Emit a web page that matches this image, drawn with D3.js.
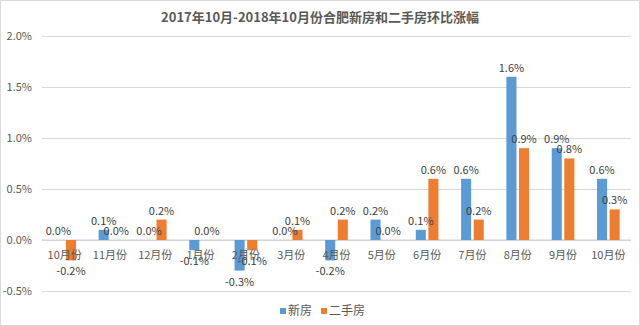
<!DOCTYPE html>
<html>
<head>
<meta charset="utf-8">
<script src="https://cdn.jsdelivr.net/npm/d3@7"></script>
<style>
  body { margin: 0; background: #fff; }
  svg text { font-family: "Noto Sans CJK SC", "Noto Sans", sans-serif; }
</style>
</head>
<body>
<svg id="chart" width="640" height="326"></svg>
<script>
// data (percent)
let months = ["10月份","11月份","12月份","1月份","2月份","3月份","4月份","5月份","6月份","7月份","8月份","9月份","10月份"]
let xinfang = [0.0, 0.1, 0.0, -0.1, -0.3, 0.0, -0.2, 0.2, 0.1, 0.6, 1.6, 0.9, 0.6]
let ershou  = [-0.2, 0.0, 0.2, 0.0, -0.1, 0.1, 0.2, 0.0, 0.6, 0.2, 0.9, 0.8, 0.3]
let seriesNames = ["新房", "二手房"]
let colors = ["#5B9BD5", "#ED7D31"]
let yTicks = [-0.5, 0, 0.5, 1.0, 1.5, 2.0]

let svg = d3.select("#chart")

// light frame around the chart
svg.append("rect")
  .attr("x", 0.5).attr("y", 0.5)
  .attr("width", 639).attr("height", 325)
  .attr("fill", "none")
  .attr("stroke", "#d9d9d9")

// scales
let x0 = d3.scaleBand()
  .domain(months.map((m, i) => i))
  .range([42, 631])

let x1 = d3.scaleBand()
  .domain(seriesNames)
  .range([x0.bandwidth() * 0.25, x0.bandwidth() * 0.75])
  .paddingInner(0.2)

let y = d3.scaleLinear()
  .domain([-0.5, 2.0])
  .range([291, 36])

// title
svg.append("text")
  .attr("x", 320).attr("y", 22)
  .attr("text-anchor", "middle")
  .attr("font-size", 13)
  .attr("font-weight", "bold")
  .attr("fill", "#595959")
  .text("2017年10月-2018年10月份合肥新房和二手房环比涨幅")

// gridlines + y labels
let yAxis = svg.append("g")
  .attr("transform", "translate(42,0)")
  .call(d3.axisLeft(y)
    .tickValues(yTicks)
    .tickSize(-589)
    .tickPadding(10)
    .tickFormat(d => d.toFixed(1) + "%"))
yAxis.select(".domain").remove()
yAxis.selectAll(".tick line").attr("stroke", "#d9d9d9")
yAxis.selectAll(".tick text")
  .attr("font-size", 11)
  .attr("fill", "#595959")
  .style("font-family", "\"Noto Sans CJK SC\", sans-serif")

// zero line a bit darker
svg.append("line")
  .attr("x1", 42).attr("x2", 631)
  .attr("y1", y(0)).attr("y2", y(0))
  .attr("stroke", "#d0d0d0")

// bars
let rows = months.map((m, i) => ({i: i, vals: [xinfang[i], ershou[i]]}))

let groups = svg.selectAll("g.grp")
  .data(rows)
  .enter()
  .append("g")
  .attr("class", "grp")
  .attr("transform", d => "translate(" + x0(d.i) + ",0)")

groups.selectAll("rect")
  .data(d => d.vals.map((v, k) => ({k: k, v: v})))
  .enter()
  .append("rect")
  .attr("x", d => x1(seriesNames[d.k]))
  .attr("width", x1.bandwidth())
  .attr("y", d => y(Math.max(0, d.v)))
  .attr("height", d => Math.abs(y(d.v) - y(0)))
  .attr("fill", d => colors[d.k])

// data labels
groups.selectAll("text.lbl")
  .data(d => d.vals.map((v, k) => ({k: k, v: v})))
  .enter()
  .append("text")
  .attr("class", "lbl")
  .attr("x", d => x1(seriesNames[d.k]) + x1.bandwidth() / 2)
  .attr("y", d => d.v < 0 ? y(d.v) + 15 : y(d.v) - 5)
  .attr("text-anchor", "middle")
  .attr("font-size", 11)
  .attr("fill", "#404040")
  .text(d => d.v.toFixed(1) + "%")

// category labels
svg.selectAll("text.cat")
  .data(months)
  .enter()
  .append("text")
  .attr("class", "cat")
  .attr("x", (m, i) => x0(i) + x0.bandwidth() / 2)
  .attr("y", 259)
  .attr("text-anchor", "middle")
  .attr("font-size", 11)
  .attr("fill", "#595959")
  .text(m => m)

// legend
let legend = svg.append("g").attr("transform", "translate(280,312)")
let lx = [0, 41]
seriesNames.forEach(function(name, k) {
  legend.append("rect")
    .attr("x", lx[k]).attr("y", -4)
    .attr("width", 6).attr("height", 6)
    .attr("fill", colors[k])
  legend.append("text")
    .attr("x", lx[k] + 8).attr("y", 3)
    .attr("font-size", 12)
    .attr("fill", "#595959")
    .text(name)
})
</script>
</body>
</html>
